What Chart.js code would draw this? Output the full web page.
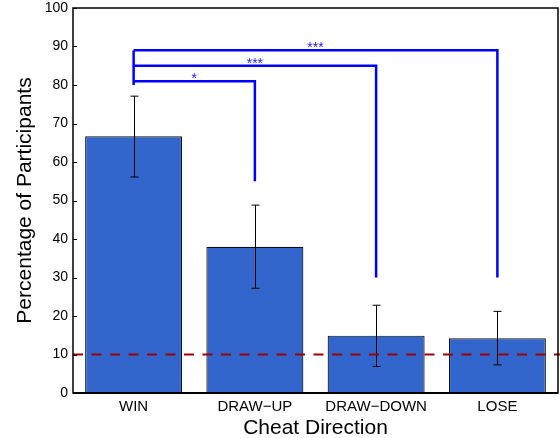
<!DOCTYPE html>
<html>
<head>
<meta charset="utf-8">
<script src="https://cdn.jsdelivr.net/npm/chart.js@4.4.1/dist/chart.umd.min.js"></script>
<style>
  body { margin: 0; background: #fff; }
  #wrap { width: 560px; height: 438px; }
</style>
</head>
<body>
<div id="wrap"><canvas id="myChart" width="560" height="438"></canvas></div>
<script>
// valores
const categorias = ['WIN', 'DRAW\u2212UP', 'DRAW\u2212DOWN', 'LOSE'];
const porcentajes = [66.7, 38.0, 14.9, 14.2];
const errorBajo = [56.1, 27.2, 6.9, 7.3];
const errorAlto = [77.1, 48.8, 22.8, 21.2];
const nivelAzar = 10;
const ticksY = [0, 10, 20, 30, 40, 50, 60, 70, 80, 90, 100];

// comparaciones: siempre desde WIN
const compDesde = 0;
const compHasta = [1, 2, 3];
const compNivel = [81, 85, 89];
const compBajada = [55, 30, 30];
const compEstrellas = ['*', '***', '***'];
const compInicioBajo = 80;

const fuente = "'Liberation Sans', Arial, Helvetica, sans-serif";

const extras = {
    id: 'extras',
    afterDatasetsDraw(chart) {
        const ctx = chart.ctx;
        const x = chart.scales.x;
        const y = chart.scales.y;
        const area = chart.chartArea;
        ctx.save();

        // barras de error
        ctx.strokeStyle = '#000';
        ctx.lineWidth = 1;
        for (let i = 0; i < categorias.length; i++) {
            const cx = Math.round(x.getPixelForValue(i)) + 0.5;
            const y1 = y.getPixelForValue(errorBajo[i]);
            const y2 = y.getPixelForValue(errorAlto[i]);
            ctx.beginPath();
            ctx.moveTo(cx, y1); ctx.lineTo(cx, y2);
            ctx.moveTo(cx - 4, y1); ctx.lineTo(cx + 4, y1);
            ctx.moveTo(cx - 4, y2); ctx.lineTo(cx + 4, y2);
            ctx.stroke();
        }

        // linea de azar
        ctx.strokeStyle = '#a00000';
        ctx.lineWidth = 2;
        ctx.setLineDash([10, 8.5]);
        const yAzar = y.getPixelForValue(nivelAzar);
        ctx.beginPath();
        ctx.moveTo(area.left, yAzar);
        ctx.lineTo(chart.width, yAzar);
        ctx.stroke();
        ctx.setLineDash([]);

        // corchetes de significancia
        ctx.strokeStyle = '#0000ff';
        ctx.fillStyle = '#2020ff';
        ctx.lineWidth = 2.5;
        const x0 = x.getPixelForValue(compDesde);
        ctx.beginPath();
        ctx.moveTo(x0, y.getPixelForValue(compInicioBajo));
        ctx.lineTo(x0, y.getPixelForValue(Math.max(...compNivel)));
        ctx.stroke();
        ctx.font = '14px ' + fuente;
        ctx.textAlign = 'center';
        ctx.textBaseline = 'alphabetic';
        for (let i = 0; i < compHasta.length; i++) {
            const x1 = x.getPixelForValue(compHasta[i]);
            const yn = y.getPixelForValue(compNivel[i]);
            ctx.beginPath();
            ctx.moveTo(x0, yn);
            ctx.lineTo(x1, yn);
            ctx.lineTo(x1, y.getPixelForValue(compBajada[i]));
            ctx.stroke();
            ctx.fillText(compEstrellas[i], (x0 + x1) / 2, yn + 2);
        }

        // marco y ticks hacia adentro
        ctx.strokeStyle = '#000';
        ctx.lineWidth = 1.5;
        ctx.strokeRect(area.left, area.top, area.right - area.left, area.bottom - area.top);
        ctx.lineWidth = 2;
        ctx.beginPath();
        ctx.moveTo(area.left, area.bottom);
        ctx.lineTo(area.right, area.bottom);
        ctx.stroke();
        ctx.lineWidth = 1;
        for (const t of ticksY) {
            const ty = Math.round(y.getPixelForValue(t)) + 0.5;
            ctx.beginPath();
            ctx.moveTo(area.left, ty);
            ctx.lineTo(area.left + 4, ty);
            ctx.stroke();
        }
        ctx.restore();
    }
};

const ctx = document.getElementById('myChart').getContext('2d');
new Chart(ctx, {
    type: 'bar',
    data: {
        labels: categorias,
        datasets: [{
            data: porcentajes,
            backgroundColor: '#3366cc',
            borderColor: '#111',
            borderWidth: 1.2,
            barPercentage: 0.8,
            categoryPercentage: 1.0
        }]
    },
    plugins: [extras],
    options: {
        responsive: false,
        animation: false,
        layout: { padding: { top: 8, right: 2, left: 0, bottom: 0 } },
        plugins: {
            legend: { display: false },
            tooltip: { enabled: false }
        },
        scales: {
            x: {
                grid: { display: false, drawTicks: false },
                border: { display: false },
                ticks: {
                    color: '#000',
                    padding: 5,
                    font: { family: fuente, size: 15 },
                    maxRotation: 0
                },
                title: {
                    display: true,
                    text: 'Cheat Direction',
                    color: '#000',
                    font: { family: fuente, size: 21 },
                    padding: { top: 0, bottom: -3 }
                },
                afterFit(scale) {
                    scale.height = 45;
                    scale.paddingLeft = 0;
                    scale.paddingRight = 0;
                }
            },
            y: {
                min: 0,
                max: 100,
                grid: { display: false, drawTicks: false },
                border: { display: false },
                ticks: {
                    stepSize: 10,
                    color: '#000',
                    padding: 5,
                    font: { family: fuente, size: 14 }
                },
                title: {
                    display: true,
                    text: 'Percentage of Participants',
                    color: '#000',
                    font: { family: fuente, size: 21 },
                    padding: { top: 13, bottom: 0 }
                },
                afterFit(scale) {
                    scale.width = 73;
                    scale.paddingTop = 0;
                    scale.paddingBottom = 0;
                }
            }
        }
    }
});
</script>
</body>
</html>
